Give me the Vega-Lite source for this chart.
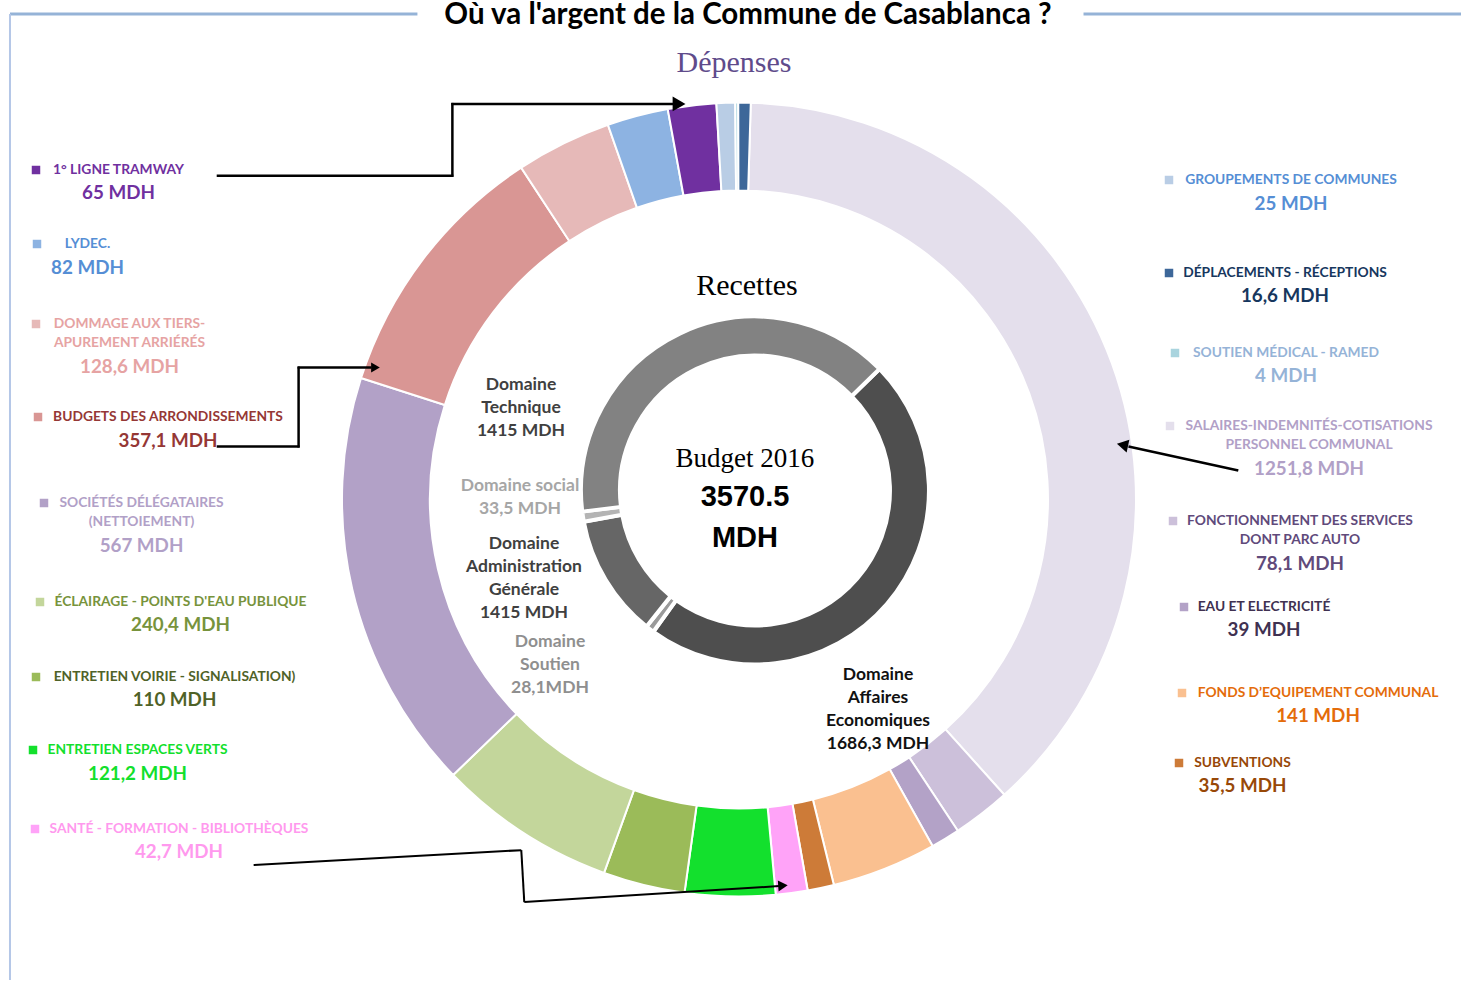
{
"$schema": "https://vega.github.io/schema/vega-lite/v6.json",
"width": 1463, "height": 981, "padding": 0,
"autosize": {"type": "fit", "contains": "padding"},
"background": "white",
"config": {
  "view": {"stroke": null},
  "axis": {"disable": true},
  "legend": {"disable": true},
  "locale": {"number": {"decimal": ",", "thousands": " ", "grouping": [3], "currency": ["", " MDH"]}}
},
"datasets": {
  "dep": [
    {"k": 0, "poste": "SALAIRES-INDEMNITÉS-COTISATIONS\nPERSONNEL COMMUNAL", "mdh": 1251.8},
    {"k": 1, "poste": "FONCTIONNEMENT DES SERVICES\nDONT PARC AUTO", "mdh": 78.1},
    {"k": 2, "poste": "EAU ET ELECTRICITÉ", "mdh": 39},
    {"k": 3, "poste": "FONDS D’EQUIPEMENT COMMUNAL", "mdh": 141},
    {"k": 4, "poste": "SUBVENTIONS", "mdh": 35.5},
    {"k": 5, "poste": "SANTÉ - FORMATION - BIBLIOTHÈQUES", "mdh": 42.7},
    {"k": 6, "poste": "ENTRETIEN ESPACES VERTS", "mdh": 121.2},
    {"k": 7, "poste": "ENTRETIEN VOIRIE - SIGNALISATION)", "mdh": 110},
    {"k": 8, "poste": "ÉCLAIRAGE - POINTS D'EAU PUBLIQUE", "mdh": 240.4},
    {"k": 9, "poste": "SOCIÉTÉS DÉLÉGATAIRES\n(NETTOIEMENT)", "mdh": 567},
    {"k": 10, "poste": "BUDGETS DES ARRONDISSEMENTS", "mdh": 357.1},
    {"k": 11, "poste": "DOMMAGE AUX TIERS-\nAPUREMENT  ARRIÉRÉS", "mdh": 128.6},
    {"k": 12, "poste": "LYDEC.", "mdh": 82},
    {"k": 13, "poste": "1° LIGNE TRAMWAY", "mdh": 65},
    {"k": 14, "poste": "GROUPEMENTS DE COMMUNES", "mdh": 25},
    {"k": 15, "poste": "SOUTIEN MÉDICAL - RAMED", "mdh": 4},
    {"k": 16, "poste": "DÉPLACEMENTS - RÉCEPTIONS", "mdh": 16.6}
  ],
  "rec": [
    {"k": 0, "etiquette": "Domaine\nAffaires\nEconomiques\n1686,3 MDH", "mdh": 1686.3},
    {"k": 1, "etiquette": "Domaine\nSoutien\n28,1MDH", "mdh": 28.1},
    {"k": 2, "etiquette": "Domaine\nAdministration\nGénérale\n1415 MDH", "mdh": 407.6},
    {"k": 3, "etiquette": "Domaine social\n33,5 MDH", "mdh": 33.5},
    {"k": 4, "etiquette": "Domaine\nTechnique\n1415 MDH", "mdh": 1415}
  ]
},
"layer": [
  {
    "resolve": {"scale": {"theta": "independent", "color": "independent"}},
    "layer": [
      {"data": {"values": [{}]}, "mark": {"type": "rule", "color": "#95b3d7", "strokeWidth": 3},
       "encoding": {"x": {"datum": 10, "type": "quantitative", "scale": {"domain": [0, 1463], "nice": false, "zero": false}}, "x2": {"datum": 418},
                    "y": {"datum": 14, "type": "quantitative", "scale": {"domain": [0, 981], "nice": false, "zero": false, "reverse": true}}}},
      {"data": {"values": [{}]}, "mark": {"type": "rule", "color": "#95b3d7", "strokeWidth": 3},
       "encoding": {"x": {"datum": 1085, "type": "quantitative", "scale": {"domain": [0, 1463], "nice": false, "zero": false}}, "x2": {"datum": 1463},
                    "y": {"datum": 14, "type": "quantitative", "scale": {"domain": [0, 981], "nice": false, "zero": false, "reverse": true}}}},
      {"data": {"values": [{}]}, "mark": {"type": "rule", "color": "#b4c7e7", "strokeWidth": 2},
       "encoding": {"x": {"datum": 10, "type": "quantitative", "scale": {"domain": [0, 1463], "nice": false, "zero": false}},
                    "y": {"datum": 14, "type": "quantitative", "scale": {"domain": [0, 981], "nice": false, "zero": false, "reverse": true}}, "y2": {"datum": 981}}},
      {"data": {"values": [{}]}, "mark": {"type": "text", "text": "Où va l'argent de la Commune de Casablanca ?", "font": "Lato", "fontWeight": "bold", "fontSize": 29.5, "color": "#000000", "align": "center", "baseline": "middle"},
       "encoding": {"x": {"datum": 749, "type": "quantitative", "scale": {"domain": [0, 1463], "nice": false, "zero": false}},
                    "y": {"datum": 15, "type": "quantitative", "scale": {"domain": [0, 981], "nice": false, "zero": false, "reverse": true}}}},
      {"data": {"values": [{}]}, "mark": {"type": "text", "text": "Dépenses", "font": "Liberation Serif", "fontSize": 30, "color": "#5f4b8b", "align": "center", "baseline": "middle"},
       "encoding": {"x": {"datum": 735, "type": "quantitative", "scale": {"domain": [0, 1463], "nice": false, "zero": false}},
                    "y": {"datum": 63, "type": "quantitative", "scale": {"domain": [0, 981], "nice": false, "zero": false, "reverse": true}}}},
      {"data": {"values": [{}]}, "mark": {"type": "text", "text": "Recettes", "font": "Liberation Serif", "fontSize": 30, "color": "#000000", "align": "center", "baseline": "middle"},
       "encoding": {"x": {"datum": 748, "type": "quantitative", "scale": {"domain": [0, 1463], "nice": false, "zero": false}},
                    "y": {"datum": 286, "type": "quantitative", "scale": {"domain": [0, 981], "nice": false, "zero": false, "reverse": true}}}},
      {"data": {"values": [{}]}, "mark": {"type": "text", "text": "Budget 2016", "font": "Liberation Serif", "fontSize": 27, "color": "#000000", "align": "center", "baseline": "middle"},
       "encoding": {"x": {"datum": 746, "type": "quantitative", "scale": {"domain": [0, 1463], "nice": false, "zero": false}},
                    "y": {"datum": 459, "type": "quantitative", "scale": {"domain": [0, 981], "nice": false, "zero": false, "reverse": true}}}},
      {"data": {"values": [{}]}, "mark": {"type": "text", "text": "3570.5", "font": "Liberation Sans", "fontWeight": "bold", "fontSize": 29, "color": "#000000", "align": "center", "baseline": "middle"},
       "encoding": {"x": {"datum": 746, "type": "quantitative", "scale": {"domain": [0, 1463], "nice": false, "zero": false}},
                    "y": {"datum": 498, "type": "quantitative", "scale": {"domain": [0, 981], "nice": false, "zero": false, "reverse": true}}}},
      {"data": {"values": [{}]}, "mark": {"type": "text", "text": "MDH", "font": "Liberation Sans", "fontWeight": "bold", "fontSize": 29, "color": "#000000", "align": "center", "baseline": "middle"},
       "encoding": {"x": {"datum": 746, "type": "quantitative", "scale": {"domain": [0, 1463], "nice": false, "zero": false}},
                    "y": {"datum": 539, "type": "quantitative", "scale": {"domain": [0, 981], "nice": false, "zero": false, "reverse": true}}}},
      {"data": {"name": "dep"}, "mark": {"type": "arc", "radius": 397, "radius2": 309, "stroke": "white", "strokeWidth": 2},
       "encoding": {"x": {"datum": 740, "type": "quantitative", "scale": {"domain": [0, 1463], "nice": false, "zero": false}},
                    "y": {"datum": 500, "type": "quantitative", "scale": {"domain": [0, 981], "nice": false, "zero": false, "reverse": true}},
                    "theta": {"field": "mdh", "type": "quantitative", "stack": true, "scale": {"range": [0.0297, 6.3129]}},
                    "order": {"field": "k", "type": "quantitative"},
                    "color": {"field": "k", "type": "nominal", "legend": null, "scale": {"domain": [0,1,2,3,4,5,6,7,8,9,10,11,12,13,14,15,16],
                      "range": ["#e4dfec","#ccc0da","#b3a2c7","#fac090","#cd7b38","#ffa3f8","#13e02d","#9bbb59","#c3d69b","#b2a1c7","#d99694","#e6b9b8","#8db3e2","#7030a0","#b9cde5","#a9d4de","#3d6799"]}}}},
      {"data": {"name": "rec"}, "mark": {"type": "arc", "radius": 174, "radius2": 135, "stroke": "white", "strokeWidth": 4},
       "encoding": {"x": {"datum": 756, "type": "quantitative", "scale": {"domain": [0, 1463], "nice": false, "zero": false}},
                    "y": {"datum": 491, "type": "quantitative", "scale": {"domain": [0, 981], "nice": false, "zero": false, "reverse": true}},
                    "theta": {"field": "mdh", "type": "quantitative", "stack": true, "scale": {"range": [0.7976, 7.0808]}},
                    "order": {"field": "k", "type": "quantitative"},
                    "color": {"field": "k", "type": "nominal", "legend": null, "scale": {"domain": [0,1,2,3,4], "range": ["#4e4e4e","#9a9a9a","#666666","#b4b4b4","#828282"]}}}},
      {"data": {"values": [{}]}, "mark": {"type": "rule", "color": "#000000", "strokeWidth": 2.5},
       "encoding": {"x": {"datum": 217, "type": "quantitative", "scale": {"domain": [0, 1463], "nice": false, "zero": false}}, "x2": {"datum": 454},
                    "y": {"datum": 176, "type": "quantitative", "scale": {"domain": [0, 981], "nice": false, "zero": false, "reverse": true}}}},
      {"data": {"values": [{}]}, "mark": {"type": "rule", "color": "#000000", "strokeWidth": 2.5},
       "encoding": {"x": {"datum": 453, "type": "quantitative", "scale": {"domain": [0, 1463], "nice": false, "zero": false}},
                    "y": {"datum": 103, "type": "quantitative", "scale": {"domain": [0, 981], "nice": false, "zero": false, "reverse": true}}, "y2": {"datum": 177}}},
      {"data": {"values": [{}]}, "mark": {"type": "rule", "color": "#000000", "strokeWidth": 2.5},
       "encoding": {"x": {"datum": 452, "type": "quantitative", "scale": {"domain": [0, 1463], "nice": false, "zero": false}}, "x2": {"datum": 674},
                    "y": {"datum": 104, "type": "quantitative", "scale": {"domain": [0, 981], "nice": false, "zero": false, "reverse": true}}}},
      {"data": {"values": [{}]}, "mark": {"type": "point", "shape": "triangle-right", "filled": true, "color": "#000000", "size": 220, "opacity": 1},
       "encoding": {"x": {"datum": 680, "type": "quantitative", "scale": {"domain": [0, 1463], "nice": false, "zero": false}},
                    "y": {"datum": 104, "type": "quantitative", "scale": {"domain": [0, 981], "nice": false, "zero": false, "reverse": true}}}},
      {"data": {"values": [{}]}, "mark": {"type": "rule", "color": "#000000", "strokeWidth": 2.5},
       "encoding": {"x": {"datum": 217, "type": "quantitative", "scale": {"domain": [0, 1463], "nice": false, "zero": false}}, "x2": {"datum": 300},
                    "y": {"datum": 447, "type": "quantitative", "scale": {"domain": [0, 981], "nice": false, "zero": false, "reverse": true}}}},
      {"data": {"values": [{}]}, "mark": {"type": "rule", "color": "#000000", "strokeWidth": 2.5},
       "encoding": {"x": {"datum": 299, "type": "quantitative", "scale": {"domain": [0, 1463], "nice": false, "zero": false}},
                    "y": {"datum": 367, "type": "quantitative", "scale": {"domain": [0, 981], "nice": false, "zero": false, "reverse": true}}, "y2": {"datum": 448}}},
      {"data": {"values": [{}]}, "mark": {"type": "rule", "color": "#000000", "strokeWidth": 2.5},
       "encoding": {"x": {"datum": 298, "type": "quantitative", "scale": {"domain": [0, 1463], "nice": false, "zero": false}}, "x2": {"datum": 372},
                    "y": {"datum": 368, "type": "quantitative", "scale": {"domain": [0, 981], "nice": false, "zero": false, "reverse": true}}}},
      {"data": {"values": [{}]}, "mark": {"type": "point", "shape": "triangle-right", "filled": true, "color": "#000000", "size": 100, "opacity": 1},
       "encoding": {"x": {"datum": 376, "type": "quantitative", "scale": {"domain": [0, 1463], "nice": false, "zero": false}},
                    "y": {"datum": 368, "type": "quantitative", "scale": {"domain": [0, 981], "nice": false, "zero": false, "reverse": true}}}},
      {"data": {"values": [{}]}, "mark": {"type": "rule", "color": "#000000", "strokeWidth": 2.5},
       "encoding": {"x": {"datum": 1240, "type": "quantitative", "scale": {"domain": [0, 1463], "nice": false, "zero": false}}, "x2": {"datum": 1130},
                    "y": {"datum": 471, "type": "quantitative", "scale": {"domain": [0, 981], "nice": false, "zero": false, "reverse": true}}, "y2": {"datum": 447}}},
      {"data": {"values": [{}]}, "mark": {"type": "point", "shape": "triangle-left", "filled": true, "color": "#000000", "size": 170, "opacity": 1, "angle": 12},
       "encoding": {"x": {"datum": 1124, "type": "quantitative", "scale": {"domain": [0, 1463], "nice": false, "zero": false}},
                    "y": {"datum": 445.5, "type": "quantitative", "scale": {"domain": [0, 981], "nice": false, "zero": false, "reverse": true}}}},
      {"data": {"values": [{}]}, "mark": {"type": "rule", "color": "#000000", "strokeWidth": 2},
       "encoding": {"x": {"datum": 254, "type": "quantitative", "scale": {"domain": [0, 1463], "nice": false, "zero": false}}, "x2": {"datum": 522},
                    "y": {"datum": 866, "type": "quantitative", "scale": {"domain": [0, 981], "nice": false, "zero": false, "reverse": true}}, "y2": {"datum": 851}}},
      {"data": {"values": [{}]}, "mark": {"type": "rule", "color": "#000000", "strokeWidth": 2},
       "encoding": {"x": {"datum": 522, "type": "quantitative", "scale": {"domain": [0, 1463], "nice": false, "zero": false}}, "x2": {"datum": 525},
                    "y": {"datum": 851, "type": "quantitative", "scale": {"domain": [0, 981], "nice": false, "zero": false, "reverse": true}}, "y2": {"datum": 903}}},
      {"data": {"values": [{}]}, "mark": {"type": "rule", "color": "#000000", "strokeWidth": 2},
       "encoding": {"x": {"datum": 525, "type": "quantitative", "scale": {"domain": [0, 1463], "nice": false, "zero": false}}, "x2": {"datum": 780},
                    "y": {"datum": 903, "type": "quantitative", "scale": {"domain": [0, 981], "nice": false, "zero": false, "reverse": true}}, "y2": {"datum": 887}}},
      {"data": {"values": [{}]}, "mark": {"type": "point", "shape": "triangle-right", "filled": true, "color": "#000000", "size": 120, "opacity": 1, "angle": -4},
       "encoding": {"x": {"datum": 784, "type": "quantitative", "scale": {"domain": [0, 1463], "nice": false, "zero": false}},
                    "y": {"datum": 886.5, "type": "quantitative", "scale": {"domain": [0, 981], "nice": false, "zero": false, "reverse": true}}}}
    ]
  },
  {
    "data": {"name": "dep"},
    "mark": {"type": "point", "shape": "square", "filled": true, "size": 72, "opacity": 1},
    "encoding": {
      "x": {"field": "k", "type": "quantitative", "scale": {"domain": [0,1,2,3,4,5,6,7,8,9,10,11,12,13,14,15,16], "range": [1170,1173,1184,1182,1179,35,33,36,40,44,38,36,37,36,1169,1175,1169], "nice": false, "zero": false}},
      "y": {"field": "k", "type": "quantitative", "scale": {"domain": [0,1,2,3,4,5,6,7,8,9,10,11,12,13,14,15,16], "range": [426,521,607,693,763,829,750,677,602,503,417,324,244,170,180,353,273], "nice": false, "zero": false}},
      "color": {"field": "k", "type": "nominal", "legend": null, "scale": {"domain": [0,1,2,3,4,5,6,7,8,9,10,11,12,13,14,15,16],
        "range": ["#e4dfec","#ccc0da","#b3a2c7","#fac090","#cd7b38","#ffa3f8","#13e02d","#9bbb59","#c3d69b","#b2a1c7","#d99694","#e6b9b8","#8db3e2","#7030a0","#b9cde5","#a9d4de","#3d6799"]}}
    }
  },
  {
    "data": {"name": "dep"},
    "mark": {"type": "text", "font": "Lato", "fontWeight": "bold", "fontSize": 13.8, "align": "center", "baseline": "middle", "lineBreak": "\n", "lineHeight": 19},
    "encoding": {
      "x": {"field": "k", "type": "quantitative", "scale": {"domain": [0,1,2,3,4,5,6,7,8,9,10,11,12,13,14,15,16], "range": [1309,1300,1264,1318,1242.5,179,137.5,174.5,180.5,141.5,168,129.5,87.5,118.5,1291,1286,1285], "nice": false, "zero": false}},
      "y": {"field": "k", "type": "quantitative", "scale": {"domain": [0,1,2,3,4,5,6,7,8,9,10,11,12,13,14,15,16], "range": [426,521,607,693,763,829,750,677,602,503,417,324,244,170,180,353,273], "nice": false, "zero": false}},
      "text": {"field": "poste", "type": "nominal"},
      "color": {"field": "k", "type": "nominal", "legend": null, "scale": {"domain": [0,1,2,3,4,5,6,7,8,9,10,11,12,13,14,15,16],
        "range": ["#b1a0c7","#604a7b","#403151","#e46c0a","#984807","#ff99ee","#12e02c","#4f6228","#77933c","#b1a0c7","#953735","#e6a3a3","#558ed5","#7030a0","#558ed5","#95b3d7","#17375e"]}}
    }
  },
  {
    "data": {"name": "dep"},
    "mark": {"type": "text", "font": "Lato", "fontWeight": "bold", "fontSize": 18.8, "align": "center", "baseline": "middle"},
    "encoding": {
      "x": {"field": "k", "type": "quantitative", "scale": {"domain": [0,1,2,3,4,5,6,7,8,9,10,11,12,13,14,15,16], "range": [1309,1300,1264,1318,1242.5,179,137.5,174.5,180.5,141.5,168,129.5,87.5,118.5,1291,1286,1285], "nice": false, "zero": false}},
      "y": {"field": "k", "type": "quantitative", "scale": {"domain": [0,1,2,3,4,5,6,7,8,9,10,11,12,13,14,15,16], "range": [469,564,630,716,786,852,774,700,625,546,441,367,268,193,204,376,296], "nice": false, "zero": false}},
      "text": {"field": "mdh", "type": "quantitative", "format": "$.1~f"},
      "color": {"field": "k", "type": "nominal", "legend": null, "scale": {"domain": [0,1,2,3,4,5,6,7,8,9,10,11,12,13,14,15,16],
        "range": ["#b1a0c7","#604a7b","#403151","#e46c0a","#984807","#ff99ee","#12e02c","#4f6228","#77933c","#b1a0c7","#953735","#e6a3a3","#558ed5","#7030a0","#558ed5","#95b3d7","#17375e"]}}
    }
  },
  {
    "data": {"name": "rec"},
    "mark": {"type": "text", "font": "Lato", "fontWeight": "bold", "fontSize": 17.5, "align": "center", "baseline": "middle", "lineBreak": "\n", "lineHeight": 23},
    "encoding": {
      "x": {"field": "k", "type": "quantitative", "scale": {"domain": [0,1,2,3,4], "range": [878,550,524,520,521], "nice": false, "zero": false}},
      "y": {"field": "k", "type": "quantitative", "scale": {"domain": [0,1,2,3,4], "range": [675,642,544,486,385], "nice": false, "zero": false}},
      "text": {"field": "etiquette", "type": "nominal"},
      "color": {"field": "k", "type": "nominal", "legend": null, "scale": {"domain": [0,1,2,3,4], "range": ["#111111","#8f8f8f","#404040","#a6a6a6","#404040"]}}
    }
  }
],
"resolve": {"scale": {"x": "independent", "y": "independent", "color": "independent"}}
}
